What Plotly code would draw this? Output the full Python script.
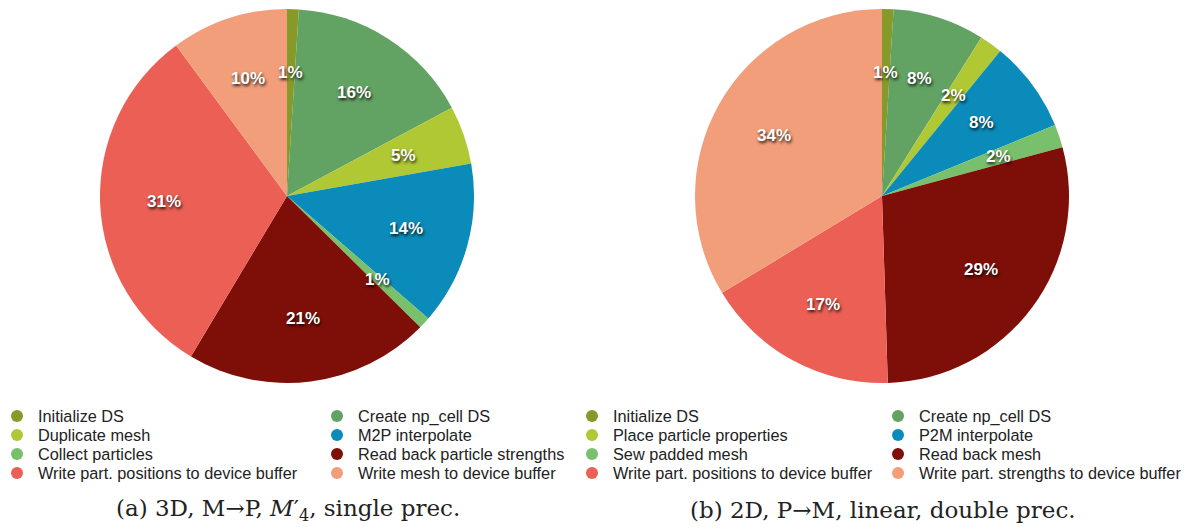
import math
import plotly.graph_objects as go

# ---- data -------------------------------------------------------------
labels_a = [
    "Initialize DS", "Create np_cell DS", "Duplicate mesh", "M2P interpolate",
    "Collect particles", "Read back particle strengths",
    "Write part. positions to device buffer", "Write mesh to device buffer",
]
values_a = [1, 16, 5, 14, 1, 21, 31, 10]

labels_b = [
    "Initialize DS", "Create np_cell DS", "Place particle properties", "P2M interpolate",
    "Sew padded mesh", "Read back mesh",
    "Write part. positions to device buffer", "Write part. strengths to device buffer",
]
values_b = [1, 8, 2, 8, 2, 29, 17, 34]

slice_colors = ["#879a29", "#62a263", "#b1c835", "#0b8bba",
                "#79c06d", "#7e0f08", "#ec5f55", "#f29e7b"]

caption_a = "(a) 3D, M→P, <i>M</i>′<sub>4</sub>, single prec."
caption_b = "(b) 2D, P→M, linear, double prec."

# ---- layout (pixel frame) --------------------------------------------
W, H = 1184, 527
R = 187
CY = 196
pies = [
    dict(labels=labels_a, values=values_a, cx=287, caption=caption_a,
         legend_x=(17, 337)),
    dict(labels=labels_b, values=values_b, cx=882, caption=caption_b,
         legend_x=(592, 898)),
]
legend_rows_y = [416, 435, 454, 473]
label_r = 0.66

fig = go.Figure()
annotations = []

for p in pies:
    cx = p["cx"]
    fig.add_trace(go.Pie(
        labels=p["labels"], values=p["values"],
        marker=dict(colors=slice_colors, line=dict(width=0)),
        sort=False, direction="clockwise", rotation=0,
        textinfo="none", hoverinfo="label+value", showlegend=False,
        domain=dict(x=[(cx - R) / W, (cx + R) / W],
                    y=[1 - (CY + R) / H, 1 - (CY - R) / H]),
    ))

    # percentage labels placed on each slice's mid-angle
    total = sum(p["values"])
    cum = 0.0
    for v in p["values"]:
        mid = (cum + v / 2) / total * 2 * math.pi
        cum += v
        annotations.append(dict(
            x=cx + label_r * R * math.sin(mid),
            y=CY - label_r * R * math.cos(mid),
            xref="x", yref="y", text=f"{v}%", showarrow=False,
            xanchor="center", yanchor="middle",
            font=dict(family="Liberation Sans, Arial, sans-serif", size=17,
                      color="white", weight="bold",
                      shadow="1px 2px 3px rgba(0,0,0,0.85)"),
        ))

    # two-column legend, filled row by row
    mx, my, mc = [], [], []
    for i, lab in enumerate(p["labels"]):
        col, row = i % 2, i // 2
        x0 = p["legend_x"][col]
        mx.append(x0)
        my.append(legend_rows_y[row])
        mc.append(slice_colors[i])
        annotations.append(dict(
            x=x0 + 19, y=legend_rows_y[row], xref="x", yref="y",
            text=lab, showarrow=False, xanchor="left", yanchor="middle",
            font=dict(family="Liberation Sans, Arial, sans-serif", size=16.3,
                      color="#222222"),
        ))
    fig.add_trace(go.Scatter(
        x=mx, y=my, mode="markers", hoverinfo="skip", showlegend=False,
        marker=dict(size=12, color=mc, line=dict(width=0)),
    ))

    annotations.append(dict(
        x=cx + 1, y=510, xref="x", yref="y", text=p["caption"],
        showarrow=False, xanchor="center", yanchor="middle",
        font=dict(family="DejaVu Serif, serif", size=23, color="#222222"),
    ))

fig.update_layout(
    width=W, height=H,
    margin=dict(l=0, r=0, t=0, b=0),
    paper_bgcolor="white", plot_bgcolor="rgba(0,0,0,0)",
    xaxis=dict(range=[0, W], visible=False, fixedrange=True, domain=[0, 1]),
    yaxis=dict(range=[H, 0], visible=False, fixedrange=True, domain=[0, 1]),
    annotations=annotations,
    showlegend=False,
)

fig.write_html("out.html")
